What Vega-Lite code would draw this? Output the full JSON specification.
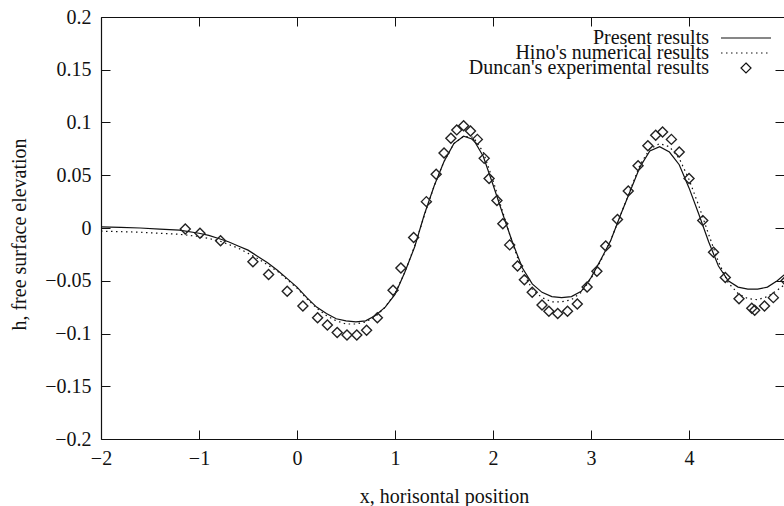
{
  "$schema": "https://vega.github.io/schema/vega-lite/v6.json",
  "width": 683,
  "height": 422,
  "autosize": {"type": "none"},
  "padding": {"left": 101, "top": 17, "right": 0, "bottom": 67},
  "background": "white",
  "config": {
    "view": {"stroke": null},
    "font": "Liberation Serif, Times New Roman, Times, serif",
    "axis": {
      "grid": false,
      "domainColor": "#111",
      "tickColor": "#111",
      "labelColor": "#111",
      "titleColor": "#111",
      "labelFont": "Liberation Serif, Times New Roman, Times, serif",
      "titleFont": "Liberation Serif, Times New Roman, Times, serif",
      "labelFontSize": 20,
      "titleFontSize": 20,
      "titleFontWeight": "normal",
      "tickSize": -9,
      "domainWidth": 1.2,
      "tickWidth": 1
    },
    "legend": {
      "orient": "none",
      "legendX": 635,
      "padding": 0,
      "labelAlign": "right",
      "labelOffset": -47,
      "symbolOffset": 0,
      "labelFont": "Liberation Serif, Times New Roman, Times, serif",
      "labelFontSize": 20,
      "labelColor": "#111",
      "labelLimit": 0,
      "symbolSize": 100,
      "symbolStrokeWidth": 1.2,
      "symbolStrokeColor": "#111",
      "symbolFillColor": "transparent"
    }
  },
  "datasets": {
    "present": [
      {"series": "Present results", "x": -2.0, "h": 0.001},
      {"series": "Present results", "x": -1.8, "h": 0.0005},
      {"series": "Present results", "x": -1.6, "h": 0.0},
      {"series": "Present results", "x": -1.4, "h": -0.001},
      {"series": "Present results", "x": -1.2, "h": -0.002},
      {"series": "Present results", "x": -1.0, "h": -0.005},
      {"series": "Present results", "x": -0.9, "h": -0.007},
      {"series": "Present results", "x": -0.8, "h": -0.01},
      {"series": "Present results", "x": -0.7, "h": -0.013},
      {"series": "Present results", "x": -0.6, "h": -0.017},
      {"series": "Present results", "x": -0.5, "h": -0.021},
      {"series": "Present results", "x": -0.4, "h": -0.027},
      {"series": "Present results", "x": -0.3, "h": -0.033},
      {"series": "Present results", "x": -0.2, "h": -0.04},
      {"series": "Present results", "x": -0.1, "h": -0.048},
      {"series": "Present results", "x": 0.0, "h": -0.056},
      {"series": "Present results", "x": 0.1, "h": -0.066},
      {"series": "Present results", "x": 0.2, "h": -0.075},
      {"series": "Present results", "x": 0.3, "h": -0.081},
      {"series": "Present results", "x": 0.4, "h": -0.086},
      {"series": "Present results", "x": 0.5, "h": -0.088},
      {"series": "Present results", "x": 0.6, "h": -0.089},
      {"series": "Present results", "x": 0.7, "h": -0.088},
      {"series": "Present results", "x": 0.8, "h": -0.083},
      {"series": "Present results", "x": 0.9, "h": -0.075},
      {"series": "Present results", "x": 1.0, "h": -0.063},
      {"series": "Present results", "x": 1.1, "h": -0.042},
      {"series": "Present results", "x": 1.2, "h": -0.018},
      {"series": "Present results", "x": 1.3, "h": 0.013},
      {"series": "Present results", "x": 1.4, "h": 0.04},
      {"series": "Present results", "x": 1.5, "h": 0.063},
      {"series": "Present results", "x": 1.6, "h": 0.08},
      {"series": "Present results", "x": 1.7, "h": 0.087},
      {"series": "Present results", "x": 1.8, "h": 0.084},
      {"series": "Present results", "x": 1.9, "h": 0.068},
      {"series": "Present results", "x": 2.0, "h": 0.041},
      {"series": "Present results", "x": 2.1, "h": 0.013},
      {"series": "Present results", "x": 2.2, "h": -0.014},
      {"series": "Present results", "x": 2.3, "h": -0.038},
      {"series": "Present results", "x": 2.4, "h": -0.053},
      {"series": "Present results", "x": 2.5, "h": -0.061},
      {"series": "Present results", "x": 2.6, "h": -0.065},
      {"series": "Present results", "x": 2.7, "h": -0.066},
      {"series": "Present results", "x": 2.8, "h": -0.065},
      {"series": "Present results", "x": 2.9, "h": -0.06},
      {"series": "Present results", "x": 3.0, "h": -0.047},
      {"series": "Present results", "x": 3.1, "h": -0.03},
      {"series": "Present results", "x": 3.2, "h": -0.012},
      {"series": "Present results", "x": 3.3, "h": 0.012},
      {"series": "Present results", "x": 3.4, "h": 0.035},
      {"series": "Present results", "x": 3.5, "h": 0.058},
      {"series": "Present results", "x": 3.6, "h": 0.073},
      {"series": "Present results", "x": 3.7, "h": 0.077},
      {"series": "Present results", "x": 3.8, "h": 0.072},
      {"series": "Present results", "x": 3.9, "h": 0.06},
      {"series": "Present results", "x": 4.0, "h": 0.038},
      {"series": "Present results", "x": 4.1, "h": 0.013},
      {"series": "Present results", "x": 4.2, "h": -0.013},
      {"series": "Present results", "x": 4.3, "h": -0.036},
      {"series": "Present results", "x": 4.4, "h": -0.05},
      {"series": "Present results", "x": 4.5, "h": -0.056},
      {"series": "Present results", "x": 4.6, "h": -0.058},
      {"series": "Present results", "x": 4.7, "h": -0.058},
      {"series": "Present results", "x": 4.8, "h": -0.056},
      {"series": "Present results", "x": 4.9, "h": -0.05},
      {"series": "Present results", "x": 5.0, "h": -0.042}
    ],
    "hino": [
      {"series": "Hino's numerical results", "x": -2.0, "h": -0.003},
      {"series": "Hino's numerical results", "x": -1.8, "h": -0.0035},
      {"series": "Hino's numerical results", "x": -1.6, "h": -0.004},
      {"series": "Hino's numerical results", "x": -1.4, "h": -0.005},
      {"series": "Hino's numerical results", "x": -1.2, "h": -0.006},
      {"series": "Hino's numerical results", "x": -1.0, "h": -0.008},
      {"series": "Hino's numerical results", "x": -0.8, "h": -0.012},
      {"series": "Hino's numerical results", "x": -0.6, "h": -0.019},
      {"series": "Hino's numerical results", "x": -0.5, "h": -0.024},
      {"series": "Hino's numerical results", "x": -0.4, "h": -0.029},
      {"series": "Hino's numerical results", "x": -0.3, "h": -0.035},
      {"series": "Hino's numerical results", "x": -0.2, "h": -0.041},
      {"series": "Hino's numerical results", "x": -0.1, "h": -0.049},
      {"series": "Hino's numerical results", "x": 0.0, "h": -0.057},
      {"series": "Hino's numerical results", "x": 0.1, "h": -0.067},
      {"series": "Hino's numerical results", "x": 0.2, "h": -0.076},
      {"series": "Hino's numerical results", "x": 0.3, "h": -0.083},
      {"series": "Hino's numerical results", "x": 0.4, "h": -0.088},
      {"series": "Hino's numerical results", "x": 0.5, "h": -0.091},
      {"series": "Hino's numerical results", "x": 0.6, "h": -0.091},
      {"series": "Hino's numerical results", "x": 0.7, "h": -0.089},
      {"series": "Hino's numerical results", "x": 0.8, "h": -0.084},
      {"series": "Hino's numerical results", "x": 0.9, "h": -0.075},
      {"series": "Hino's numerical results", "x": 1.0, "h": -0.062},
      {"series": "Hino's numerical results", "x": 1.1, "h": -0.042},
      {"series": "Hino's numerical results", "x": 1.2, "h": -0.017},
      {"series": "Hino's numerical results", "x": 1.3, "h": 0.012},
      {"series": "Hino's numerical results", "x": 1.4, "h": 0.04},
      {"series": "Hino's numerical results", "x": 1.5, "h": 0.063},
      {"series": "Hino's numerical results", "x": 1.6, "h": 0.08},
      {"series": "Hino's numerical results", "x": 1.7, "h": 0.087},
      {"series": "Hino's numerical results", "x": 1.8, "h": 0.086},
      {"series": "Hino's numerical results", "x": 1.9, "h": 0.072},
      {"series": "Hino's numerical results", "x": 2.0, "h": 0.045},
      {"series": "Hino's numerical results", "x": 2.1, "h": 0.015},
      {"series": "Hino's numerical results", "x": 2.2, "h": -0.015},
      {"series": "Hino's numerical results", "x": 2.3, "h": -0.041},
      {"series": "Hino's numerical results", "x": 2.4, "h": -0.058},
      {"series": "Hino's numerical results", "x": 2.5, "h": -0.066},
      {"series": "Hino's numerical results", "x": 2.6, "h": -0.07},
      {"series": "Hino's numerical results", "x": 2.7, "h": -0.07},
      {"series": "Hino's numerical results", "x": 2.8, "h": -0.068},
      {"series": "Hino's numerical results", "x": 2.9, "h": -0.061},
      {"series": "Hino's numerical results", "x": 3.0, "h": -0.048},
      {"series": "Hino's numerical results", "x": 3.1, "h": -0.031},
      {"series": "Hino's numerical results", "x": 3.2, "h": -0.012},
      {"series": "Hino's numerical results", "x": 3.3, "h": 0.012},
      {"series": "Hino's numerical results", "x": 3.4, "h": 0.036},
      {"series": "Hino's numerical results", "x": 3.5, "h": 0.06},
      {"series": "Hino's numerical results", "x": 3.6, "h": 0.075},
      {"series": "Hino's numerical results", "x": 3.7, "h": 0.08},
      {"series": "Hino's numerical results", "x": 3.8, "h": 0.077},
      {"series": "Hino's numerical results", "x": 3.9, "h": 0.066},
      {"series": "Hino's numerical results", "x": 4.0, "h": 0.046},
      {"series": "Hino's numerical results", "x": 4.1, "h": 0.021},
      {"series": "Hino's numerical results", "x": 4.2, "h": -0.006},
      {"series": "Hino's numerical results", "x": 4.3, "h": -0.032},
      {"series": "Hino's numerical results", "x": 4.4, "h": -0.052},
      {"series": "Hino's numerical results", "x": 4.5, "h": -0.062},
      {"series": "Hino's numerical results", "x": 4.6, "h": -0.067},
      {"series": "Hino's numerical results", "x": 4.7, "h": -0.068},
      {"series": "Hino's numerical results", "x": 4.8, "h": -0.065},
      {"series": "Hino's numerical results", "x": 4.9, "h": -0.059},
      {"series": "Hino's numerical results", "x": 5.0, "h": -0.052}
    ],
    "duncan": [
      {"series": "Duncan's experimental results", "x": -1.14, "h": -0.001},
      {"series": "Duncan's experimental results", "x": -0.99, "h": -0.005},
      {"series": "Duncan's experimental results", "x": -0.78, "h": -0.012},
      {"series": "Duncan's experimental results", "x": -0.45, "h": -0.032},
      {"series": "Duncan's experimental results", "x": -0.29, "h": -0.044},
      {"series": "Duncan's experimental results", "x": -0.1, "h": -0.06},
      {"series": "Duncan's experimental results", "x": 0.06, "h": -0.074},
      {"series": "Duncan's experimental results", "x": 0.21, "h": -0.085},
      {"series": "Duncan's experimental results", "x": 0.31, "h": -0.092},
      {"series": "Duncan's experimental results", "x": 0.41, "h": -0.099},
      {"series": "Duncan's experimental results", "x": 0.51, "h": -0.1015},
      {"series": "Duncan's experimental results", "x": 0.61, "h": -0.1015},
      {"series": "Duncan's experimental results", "x": 0.71, "h": -0.097},
      {"series": "Duncan's experimental results", "x": 0.82, "h": -0.085},
      {"series": "Duncan's experimental results", "x": 0.98, "h": -0.059},
      {"series": "Duncan's experimental results", "x": 1.06, "h": -0.038},
      {"series": "Duncan's experimental results", "x": 1.19, "h": -0.009},
      {"series": "Duncan's experimental results", "x": 1.32, "h": 0.025},
      {"series": "Duncan's experimental results", "x": 1.42, "h": 0.051},
      {"series": "Duncan's experimental results", "x": 1.5, "h": 0.071},
      {"series": "Duncan's experimental results", "x": 1.57, "h": 0.085},
      {"series": "Duncan's experimental results", "x": 1.63, "h": 0.093},
      {"series": "Duncan's experimental results", "x": 1.7, "h": 0.097},
      {"series": "Duncan's experimental results", "x": 1.77, "h": 0.092},
      {"series": "Duncan's experimental results", "x": 1.84, "h": 0.084},
      {"series": "Duncan's experimental results", "x": 1.91, "h": 0.066},
      {"series": "Duncan's experimental results", "x": 1.96, "h": 0.047},
      {"series": "Duncan's experimental results", "x": 2.04, "h": 0.026},
      {"series": "Duncan's experimental results", "x": 2.1, "h": 0.004},
      {"series": "Duncan's experimental results", "x": 2.17, "h": -0.016},
      {"series": "Duncan's experimental results", "x": 2.25, "h": -0.036},
      {"series": "Duncan's experimental results", "x": 2.32, "h": -0.049},
      {"series": "Duncan's experimental results", "x": 2.4, "h": -0.061},
      {"series": "Duncan's experimental results", "x": 2.5, "h": -0.073},
      {"series": "Duncan's experimental results", "x": 2.57, "h": -0.079},
      {"series": "Duncan's experimental results", "x": 2.66, "h": -0.081},
      {"series": "Duncan's experimental results", "x": 2.76, "h": -0.079},
      {"series": "Duncan's experimental results", "x": 2.86, "h": -0.072},
      {"series": "Duncan's experimental results", "x": 2.96, "h": -0.056},
      {"series": "Duncan's experimental results", "x": 3.06, "h": -0.041},
      {"series": "Duncan's experimental results", "x": 3.15, "h": -0.017},
      {"series": "Duncan's experimental results", "x": 3.27, "h": 0.008},
      {"series": "Duncan's experimental results", "x": 3.38, "h": 0.035},
      {"series": "Duncan's experimental results", "x": 3.48, "h": 0.059},
      {"series": "Duncan's experimental results", "x": 3.58, "h": 0.078},
      {"series": "Duncan's experimental results", "x": 3.66, "h": 0.088},
      {"series": "Duncan's experimental results", "x": 3.73, "h": 0.091},
      {"series": "Duncan's experimental results", "x": 3.82, "h": 0.084},
      {"series": "Duncan's experimental results", "x": 3.9, "h": 0.072},
      {"series": "Duncan's experimental results", "x": 4.0, "h": 0.047},
      {"series": "Duncan's experimental results", "x": 4.14, "h": 0.007},
      {"series": "Duncan's experimental results", "x": 4.25, "h": -0.023},
      {"series": "Duncan's experimental results", "x": 4.37, "h": -0.047},
      {"series": "Duncan's experimental results", "x": 4.51, "h": -0.067},
      {"series": "Duncan's experimental results", "x": 4.64, "h": -0.076},
      {"series": "Duncan's experimental results", "x": 4.67, "h": -0.078},
      {"series": "Duncan's experimental results", "x": 4.77, "h": -0.074},
      {"series": "Duncan's experimental results", "x": 4.86, "h": -0.066},
      {"series": "Duncan's experimental results", "x": 4.99, "h": -0.05}
    ]
  },
  "resolve": {"axis": {"x": "independent", "y": "independent"}},
  "layer": [
    {
      "data": {"name": "present"},
      "mark": {"type": "line", "strokeWidth": 1.2, "clip": true},
      "encoding": {
        "x": {
          "field": "x", "type": "quantitative",
          "scale": {"domain": [-2, 4.969], "nice": false, "zero": false},
          "axis": {
            "orient": "bottom",
            "values": [-2, -1, 0, 1, 2, 3, 4, 5],
            "title": "x, horisontal position",
            "labelPadding": 18,
            "labelFlush": false,
            "titleX": 343,
            "titleY": 63,
            "titleBaseline": "alphabetic",
            "titleAlign": "center"
          }
        },
        "y": {
          "field": "h", "type": "quantitative",
          "scale": {"domain": [-0.2, 0.2], "nice": false, "zero": false},
          "axis": {
            "orient": "left",
            "values": [-0.2, -0.15, -0.1, -0.05, 0, 0.05, 0.1, 0.15, 0.2],
            "format": "~g",
            "title": "h, free surface elevation",
            "labelPadding": 19,
            "labelFlush": false,
            "titleX": -76,
            "titleY": 217,
            "titleAngle": 270,
            "titleBaseline": "alphabetic",
            "titleAlign": "center"
          }
        },
        "color": {
          "field": "series", "type": "nominal",
          "scale": {"domain": ["Present results"], "range": ["#111"]},
          "legend": {"title": null, "legendY": 11, "symbolType": "M-5,0H5"}
        }
      }
    },
    {
      "data": {"name": "hino"},
      "mark": {"type": "line", "color": "#111", "strokeWidth": 1.2, "clip": true},
      "encoding": {
        "x": {"field": "x", "type": "quantitative", "axis": null},
        "y": {"field": "h", "type": "quantitative", "axis": null},
        "strokeDash": {
          "field": "series", "type": "nominal",
          "scale": {"domain": ["Hino's numerical results"], "range": [[1.5, 3.5]]},
          "legend": {"title": null, "legendY": 26, "symbolType": "M-5,0H5"}
        }
      }
    },
    {
      "data": {"name": "duncan"},
      "mark": {"type": "point", "filled": false, "color": "#222", "strokeWidth": 1.4, "size": 100, "opacity": 1, "clip": true},
      "encoding": {
        "x": {
          "field": "x", "type": "quantitative",
          "axis": {"orient": "top", "values": [-2, -1, 0, 1, 2, 3, 4, 5], "labels": false, "title": null}
        },
        "y": {
          "field": "h", "type": "quantitative",
          "axis": {"orient": "right", "values": [-0.2, -0.15, -0.1, -0.05, 0, 0.05, 0.1, 0.15, 0.2], "labels": false, "title": null, "domain": false}
        },
        "shape": {
          "field": "series", "type": "nominal",
          "scale": {"domain": ["Duncan's experimental results"], "range": ["M0,-1L1,0L0,1L-1,0Z"]},
          "legend": {"title": null, "legendY": 41}
        }
      }
    }
  ]
}
